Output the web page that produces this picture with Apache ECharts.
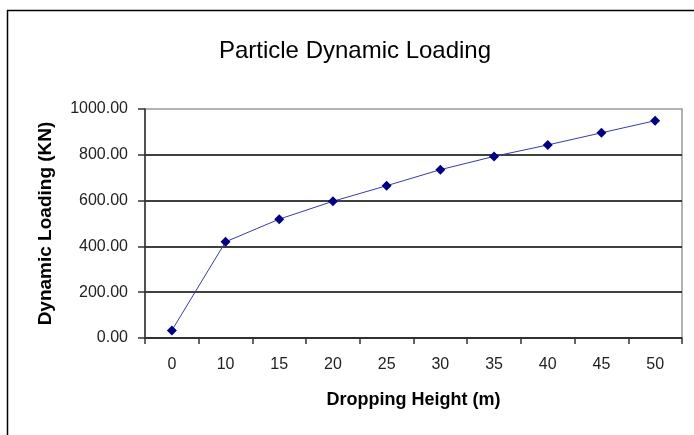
<!DOCTYPE html>
<html>
<head>
<meta charset="utf-8">
<script src="https://cdn.jsdelivr.net/npm/echarts@6/dist/echarts.min.js"></script>
<style>html,body{margin:0;padding:0;background:#fff;}#c{width:694px;height:435px;}</style>
</head>
<body>
<div id="c"></div>
<script>
var categories = ['0', '10', '15', '20', '25', '30', '35', '40', '45', '50'];
var loading = [33, 420, 519, 597, 665, 735, 793, 843, 896, 949];
var yTicks = [0, 200, 400, 600, 800, 1000];

var chart = echarts.init(document.getElementById('c'));
chart.setOption({
  backgroundColor: '#fff',
  animation: false,
  title: {
    text: 'Particle Dynamic Loading',
    left: 350, top: 34, textAlign: 'center',
    textStyle: { fontFamily: 'Liberation Sans, Arial', fontSize: 24, fontWeight: 'normal', color: '#000' }
  },
  graphic: [
    { type: 'line', shape: { x1: 7, y1: 10.5, x2: 694, y2: 10.5 }, style: { stroke: '#000', lineWidth: 1.5 } },
    { type: 'line', shape: { x1: 7.5, y1: 10, x2: 7.5, y2: 435 }, style: { stroke: '#000', lineWidth: 1.5 } }
  ],
  grid: { left: 145, top: 109, right: 12, bottom: 97, show: true, borderColor: '#999', borderWidth: 1.5 },
  xAxis: {
    type: 'category',
    data: categories,
    boundaryGap: true,
    name: 'Dropping Height (m)',
    nameLocation: 'middle',
    nameGap: 53,
    nameTextStyle: { fontFamily: 'Liberation Sans, Arial', fontSize: 18, fontWeight: 'bold', color: '#000' },
    axisLine: { lineStyle: { color: '#333', width: 1.5 } },
    axisTick: { show: true, length: 6, inside: false, lineStyle: { color: '#333', width: 1.5 } },
    axisLabel: { margin: 19, fontFamily: 'Liberation Sans, Arial', fontSize: 16, color: '#222' },
    splitLine: { show: false }
  },
  yAxis: {
    type: 'value',
    min: yTicks[0], max: yTicks[yTicks.length - 1], interval: 200,
    name: 'Dynamic Loading (KN)',
    nameLocation: 'middle',
    nameGap: 90,
    nameTextStyle: { fontFamily: 'Liberation Sans, Arial', fontSize: 19, fontWeight: 'bold', color: '#000' },
    axisLine: { show: true, lineStyle: { color: '#333', width: 1.5 } },
    axisTick: { show: true, length: 7, inside: false, lineStyle: { color: '#333', width: 1.5 } },
    axisLabel: {
      margin: 17, fontFamily: 'Liberation Sans, Arial', fontSize: 16, color: '#222',
      formatter: function (v) { return v.toFixed(2); }
    },
    splitLine: { show: true, showMaxLine: false, lineStyle: { color: '#000', width: 1.5 } }
  },
  series: [{
    type: 'line',
    data: loading,
    symbol: 'diamond',
    symbolSize: 10,
    lineStyle: { color: '#3a3aa8', width: 1 },
    itemStyle: { color: '#000080' }
  }]
});
</script>
</body>
</html>
